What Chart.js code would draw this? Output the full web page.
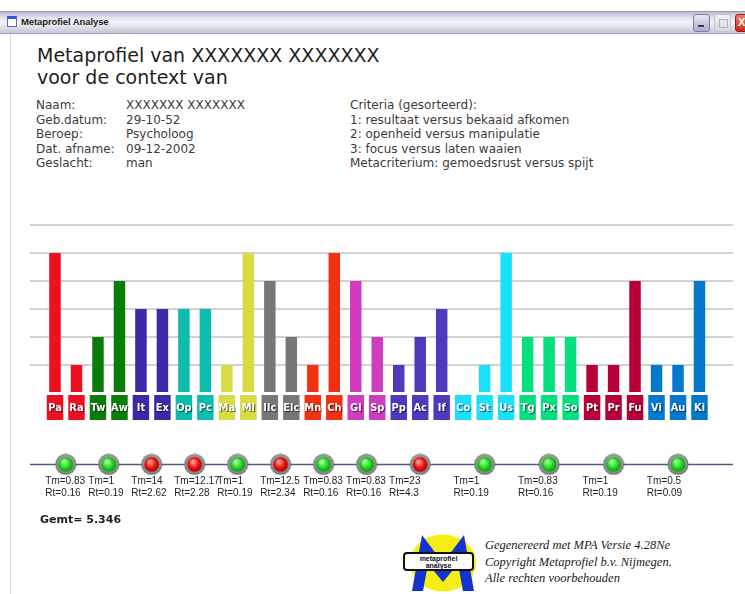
<!DOCTYPE html>
<html>
<head>
<meta charset="utf-8">
<title>Metaprofiel Analyse</title>
<script src="https://cdn.jsdelivr.net/npm/chart.js@4.4.1/dist/chart.umd.min.js"></script>
<style>
  html, body { margin: 0; padding: 0; background: #fff; }
  body { width: 745px; height: 594px; position: relative; overflow: hidden; font-family: "DejaVu Sans", sans-serif; color: #3a3a3a; }
  .titlebar { position: absolute; left: 0; top: 11px; width: 745px; height: 23px; box-sizing: border-box;
    background: linear-gradient(#b9bbd2, #e6e7f2 30%, #f2f2f8 50%, #dcdde9 75%, #c3c5d8);
    border-top: 1px solid #9698b2; border-bottom: 1px solid #a3a5bd; }
  .titlebar .icon { position: absolute; left: 7px; top: 4px; width: 10px; height: 11px; background: #fff; border: 1px solid #5a6fa8; border-top: 3px solid #2d5bd0; box-sizing: border-box; }
  .titlebar .txt { position: absolute; left: 21px; top: 4px; font: bold 9.5px "Liberation Sans", sans-serif; color: #1c1c1c; letter-spacing: -0.1px; }
  .btn { position: absolute; top: 2px; width: 17px; height: 18px; border-radius: 3px; box-sizing: border-box; }
  .btn.min { left: 693px; background: linear-gradient(#e8eaf4, #a8acc8); border: 1px solid #7a7f9e; }
  .btn.min:after { content: ""; position: absolute; left: 4px; bottom: 4px; width: 6px; height: 2px; background: #303650; }
  .btn.max { left: 714px; background: linear-gradient(#f2f2f6, #d6d7e2); border: 1px solid #c2c4d2; }
  .btn.max:after { content: ""; position: absolute; left: 4px; top: 4px; width: 7px; height: 7px; border: 1px solid #b0b2c0; }
  .btn.close { left: 735px; width: 14px; background: linear-gradient(#f08070, #d02818); border: 1px solid #a01810; color: #fff; font: bold 11px "Liberation Sans"; line-height: 15px; padding-left: 2px; }
  .frame { position: absolute; left: 10px; top: 34px; width: 1px; height: 560px; background: #dedede; }
  .h1 { position: absolute; left: 37px; font-size: 19px; line-height: 22px; color: #1e1e1e; white-space: nowrap; }
  .info { position: absolute; font-size: 12px; line-height: 14.6px; color: #3c3c3c; white-space: pre; }
  .gemt { position: absolute; left: 40px; top: 513px; font: bold 11px "DejaVu Sans", sans-serif; color: #1e1e1e; }
  .foot { position: absolute; left: 485px; top: 537px; font: italic 12.5px "Liberation Serif", serif; line-height: 16.7px; color: #1a1a1a; white-space: pre; }
  #chartBox { position: absolute; left: 0; top: 210px; width: 745px; height: 306px; }
</style>
</head>
<body>
<div class="titlebar">
  <div class="icon"></div>
  <div class="txt">Metaprofiel Analyse</div>
  <div class="btn min"></div>
  <div class="btn max"></div>
  <div class="btn close">X</div>
</div>
<div class="frame"></div>

<div class="h1" style="top:44px">Metaprofiel van XXXXXXX XXXXXXX</div>
<div class="h1" style="top:66px">voor de context van</div>

<div class="info" style="left:36px;top:98px">Naam:
Geb.datum:
Beroep:
Dat. afname:
Geslacht:</div>
<div class="info" style="left:126px;top:98px">XXXXXXX XXXXXXX
29-10-52
Psycholoog
09-12-2002
man</div>
<div class="info" style="left:350px;top:98px">Criteria (gesorteerd):
1: resultaat versus bekaaid afkomen
2: openheid versus manipulatie
3: focus versus laten waaien
Metacriterium: gemoedsrust versus spijt</div>

<div id="chartBox"><canvas id="chart" width="745" height="306"></canvas></div>

<div class="gemt">Gemt= 5.346</div>

<svg style="position:absolute;left:400px;top:530px" width="80" height="64" viewBox="0 0 80 64">
  <ellipse cx="43" cy="33" rx="33" ry="28.5" fill="#f5ee12"/>
  <polygon points="12,61 22,5 43,33 64,5 74,61 63,61 58,34 43,52 28,34 23,61" fill="#1432d2"/>
  <rect x="4" y="23" width="69" height="17" rx="3" fill="#fff" stroke="#111" stroke-width="2"/>
  <text x="38.5" y="30.5" font-size="7" font-family="Liberation Sans" font-weight="bold" text-anchor="middle" fill="#111">metaprofiel</text>
  <text x="38.5" y="38" font-size="7" font-family="Liberation Sans" font-weight="bold" text-anchor="middle" fill="#111">analyse</text>
</svg>
<div class="foot">Gegenereerd met MPA Versie 4.28Ne
Copyright Metaprofiel b.v. Nijmegen.
Alle rechten voorbehouden</div>

<script>
// factor codes, in the order shown
const labels = ['Pa','Ra','Tw','Aw','It','Ex','Op','Pc','Ma','Ml','Ilc','Elc','Mn','Ch','Gl','Sp',
                'Pp','Ac','If','Co','St','Us','Tg','Px','So','Pt','Pr','Fu','Vi','Au','Ki'];
const scores = [5,1,2,4,3,3,3,3,1,5,4,2,1,5,4,2,1,2,3,0,1,5,2,2,2,1,1,4,1,1,4];

// groups of factors (one traffic light per group)
const groupSizes  = [2,2,2,2,2,2,2,2,3,3,3,3,3];
const groupColors = ['#ec1020','#0a7c0a','#3b2aa8','#0cbcac','#d8dc44','#777777','#f03212',
                     '#d03cc0','#4f3abc','#1ae0fc','#04e080','#b80038','#0478cc'];
const tmValues = [0.83,1,14,12.17,1,12.5,0.83,0.83,23,1,0.83,1,0.5];
const rtValues = [0.16,0.19,2.62,2.28,0.19,2.34,0.16,0.16,4.3,0.19,0.16,0.19,0.09];
const alarm    = [false,false,true,true,false,true,false,false,true,false,false,false,false];

// derived lookups
const groupStart = [];
const barColors = [];
groupSizes.forEach((n, g) => {
  groupStart.push(barColors.length);
  for (let i = 0; i < n; i++) barColors.push(groupColors[g]);
});
const groupCenter = groupSizes.map((n, g) => groupStart[g] + (n - 1) / 2);

const X_MIN = -1.164, X_MAX = 31.56;
const dotRow = -2.55;   // vertical slot of the light row, below the label boxes

function makeDot(hi, mid, dark) {
  const c = document.createElement('canvas');
  c.width = 22; c.height = 22;
  const g = c.getContext('2d');
  let gr = g.createRadialGradient(11, 9, 2, 11, 11, 11);
  gr.addColorStop(0, '#dcdcdc');
  gr.addColorStop(0.7, '#9c9c9c');
  gr.addColorStop(1, '#585858');
  g.fillStyle = gr;
  g.beginPath(); g.arc(11, 11, 10.5, 0, Math.PI * 2); g.fill();
  gr = g.createRadialGradient(9, 8, 1, 11, 11, 8);
  gr.addColorStop(0, hi);
  gr.addColorStop(0.55, mid);
  gr.addColorStop(1, dark);
  g.fillStyle = gr;
  g.beginPath(); g.arc(11, 11, 7.5, 0, Math.PI * 2); g.fill();
  return c;
}
const greenDot = makeDot('#a8ffa0', '#22d822', '#0c8c0c');
const redDot = makeDot('#ff9c9c', '#ec1414', '#9a0000');

const labelPlugin = {
  id: 'labelPlugin',
  afterDatasetsDraw(chart) {
    const ctx = chart.ctx;
    const xs = chart.scales.x;
    // codes inside the boxes
    const boxes = chart.getDatasetMeta(0).data;
    ctx.save();
    ctx.font = 'bold 11px "DejaVu Sans Condensed", "DejaVu Sans", sans-serif';
    ctx.textAlign = 'center';
    ctx.textBaseline = 'middle';
    ctx.fillStyle = '#fff';
    ctx.shadowColor = 'rgba(0,0,0,0.65)';
    ctx.shadowOffsetX = 1;
    ctx.shadowOffsetY = 1;
    ctx.shadowBlur = 1;
    boxes.forEach((b, i) => {
      ctx.fillText(labels[i], b.x, (b.y + b.base) / 2 + 1);
    });
    ctx.restore();

    // Tm / Rt under each light
    const dots = chart.getDatasetMeta(3).data;
    ctx.save();
    ctx.font = '10px "Liberation Sans", Arial, sans-serif';
    ctx.fillStyle = '#1e1e1e';
    ctx.textAlign = 'left';
    ctx.textBaseline = 'middle';
    dots.forEach((d, g) => {
      const left = xs.getPixelForValue(groupStart[g] - 0.45);
      ctx.fillText('Tm=' + tmValues[g], left, d.y + 16.5);
      ctx.fillText('Rt=' + rtValues[g], left, d.y + 29);
    });
    ctx.restore();
  }
};

new Chart(document.getElementById('chart'), {
  type: 'bar',
  data: {
    datasets: [
      {
        // label boxes under the bars
        data: labels.map((l, i) => ({ x: i, y: [-1, 0] })),
        backgroundColor: barColors,
        borderColor: 'rgba(255,255,255,0.35)',
        borderWidth: 1,
        borderSkipped: false,
        barPercentage: 0.86,
        categoryPercentage: 1,
        grouped: false
      },
      {
        data: scores.map((v, i) => ({ x: i, y: v })),
        backgroundColor: barColors,
        barPercentage: 0.535,
        categoryPercentage: 1,
        grouped: false
      },
      {
        type: 'line',
        data: [{ x: X_MIN, y: dotRow }, { x: X_MAX, y: dotRow }],
        borderColor: '#4e5e7c',
        borderWidth: 1.5,
        pointRadius: 0,
        order: 2
      },
      {
        type: 'line',
        data: groupCenter.map(x => ({ x: x, y: dotRow })),
        showLine: false,
        pointRadius: 10,
        pointStyle: c => (alarm[c.dataIndex] ? redDot : greenDot),
        order: 1
      }
    ]
  },
  options: {
    responsive: false,
    animation: false,
    events: [],
    layout: { padding: { left: 30, right: 12, top: 15, bottom: 5 } },
    plugins: { legend: { display: false }, tooltip: { enabled: false } },
    scales: {
      x: {
        type: 'linear',
        min: X_MIN,
        max: X_MAX,
        offset: false,
        display: false
      },
      y: {
        min: -4,
        max: 6,
        ticks: { display: false, stepSize: 1 },
        border: { display: false },
        grid: {
          drawTicks: false,
          lineWidth: 2,
          color: c => (c.tick && c.tick.value >= 1 ? '#d2d2d2' : 'rgba(0,0,0,0)')
        },
        afterFit: s => { s.width = 0; }
      }
    }
  },
  plugins: [labelPlugin]
});
</script>
</body>
</html>
